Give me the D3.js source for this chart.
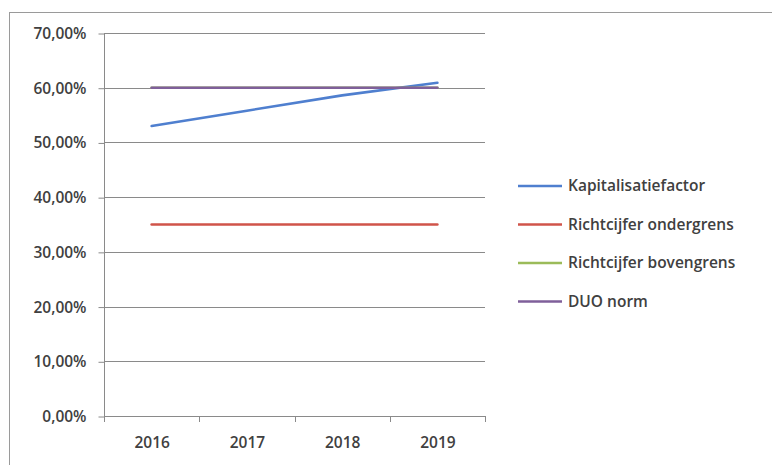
<!DOCTYPE html>
<html><head><meta charset="utf-8">
<script src="https://cdn.jsdelivr.net/npm/d3@7"></script>
<style>body{margin:0;background:#fff}svg{display:block}</style>
</head><body>
<svg id="c" width="772" height="465"></svg>
<script>
const years = ["2016","2017","2018","2019"];
const kapitalisatiefactor = [0.530, 0.558, 0.586, 0.609];
const ondergrens = [0.35, 0.35, 0.35, 0.35];
const bovengrens = [0.60, 0.60, 0.60, 0.60];
const duoNorm = [0.60, 0.60, 0.60, 0.60];
const seriesNames = ["Kapitalisatiefactor","Richtcijfer ondergrens","Richtcijfer bovengrens","DUO norm"];
const yTicks = [0,0.1,0.2,0.3,0.4,0.5,0.6,0.7];

(function(){
const colors = ["#4F7FCF","#D0544A","#9BBB59","#7F5F9A"];
const series = [
  {name: seriesNames[0], values: kapitalisatiefactor, color: colors[0]},
  {name: seriesNames[1], values: ondergrens, color: colors[1]},
  {name: seriesNames[2], values: bovengrens, color: colors[2]},
  {name: seriesNames[3], values: duoNorm, color: colors[3]}
];

const svg = d3.select("#c");
const font = "'Open Sans', 'DejaVu Sans', sans-serif";
const textCol = "#404040";
const gridCol = "#8a8a8a";
const fs = "15.5px", fw = 600;

svg.append("rect").attr("x",9.5).attr("y",12.5).attr("width",800).attr("height",500)
  .attr("fill","none").attr("stroke","#9a9a9a").attr("stroke-width",1);

const pL = 104, pR = 485, pT = 33, pB = 416;
const x = d3.scaleBand().domain(years).range([pL,pR]);
const y = d3.scaleLinear().domain([0,0.7]).range([pB,pT]);

svg.append("g").selectAll("line").data(yTicks.filter(d=>d>0)).join("line")
  .attr("x1",pL).attr("x2",pR)
  .attr("y1",d=>Math.round(y(d))+0.5).attr("y2",d=>Math.round(y(d))+0.5)
  .attr("stroke",gridCol).attr("stroke-width",1);

const fmt = d => (d*100).toFixed(2).replace(".",",") + "%";
const ya = svg.append("g").attr("transform",`translate(${pL+0.5},0.5)`)
  .call(d3.axisLeft(y).tickValues(yTicks).tickFormat(fmt).tickSize(6).tickPadding(12));
ya.select(".domain").attr("stroke",gridCol).attr("d",`M0,${pB}V${pT}`);
ya.selectAll(".tick line").attr("stroke",gridCol);
ya.selectAll(".tick text").attr("fill",textCol).style("font-family",font).style("font-size",fs).style("font-weight",fw);

const xa = svg.append("g").attr("transform",`translate(0.5,${pB+0.5})`)
  .call(d3.axisBottom(x).tickSize(0).tickPadding(20));
xa.select(".domain").attr("stroke",gridCol).attr("d",`M${pL},0H${pR}`);
xa.selectAll(".tick text").attr("fill",textCol).style("font-family",font).style("font-size",fs).style("font-weight",fw);
svg.append("g").selectAll("line").data(d3.range(years.length+1)).join("line")
  .attr("x1",i=>Math.round(pL + i*x.bandwidth())+0.5)
  .attr("x2",i=>Math.round(pL + i*x.bandwidth())+0.5)
  .attr("y1",pB).attr("y2",pB+6)
  .attr("stroke",gridCol);

const line = d3.line().x((d,i)=>x(years[i])+x.bandwidth()/2).y(d=>y(d));
svg.append("g").selectAll("path").data(series).join("path")
  .attr("d",d=>line(d.values)).attr("fill","none")
  .attr("stroke",d=>d.color).attr("stroke-width",2.6).attr("stroke-linecap","round");

const lg = svg.append("g").selectAll("g").data(series).join("g")
  .attr("transform",(d,i)=>`translate(518,${186 + i*38.5})`);
lg.append("line").attr("x1",0).attr("x2",44).attr("y1",0).attr("y2",0)
  .attr("stroke",d=>d.color).attr("stroke-width",2.6);
lg.append("text").attr("x",50).attr("y",0).attr("dy","0.35em")
  .attr("fill",textCol).style("font-family",font).style("font-size",fs).style("font-weight",fw)
  .text(d=>d.name);
})();
</script>
</body></html>
